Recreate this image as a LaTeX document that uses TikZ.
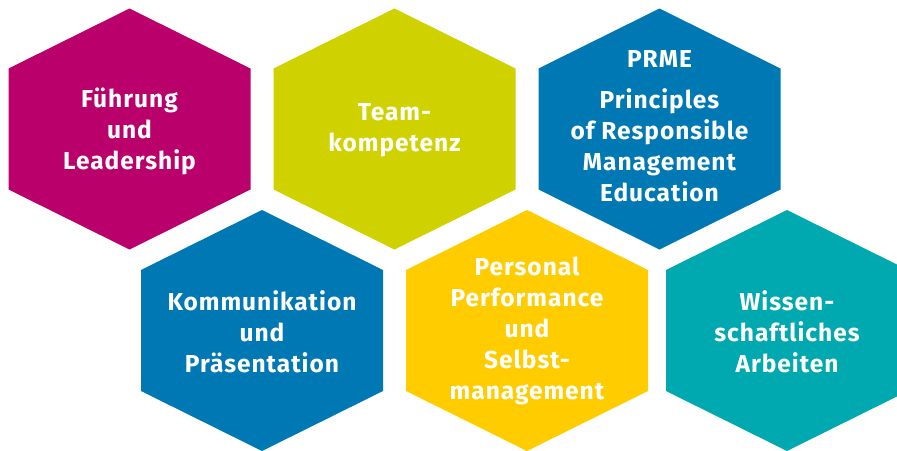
\documentclass[tikz,border=0pt]{standalone}
\usepackage{fontspec}
\setmainfont{Fira Sans}[LetterSpace=4]
\definecolor{hexmagenta}{RGB}{185,0,107}
\definecolor{hexlime}{RGB}{208,210,0}
\definecolor{hexblue}{RGB}{0,120,180}
\definecolor{hexyellow}{RGB}{255,204,0}
\definecolor{hexteal}{RGB}{0,168,176}
\tikzset{
  pics/hexa/.style={code={
    \fill (0,-120.5) -- (121,-60.5) -- (121,60.5) -- (0,120.5)
      -- (-121,60.5) -- (-121,-60.5) -- cycle;}},
  hexlabel/.style={text=white,align=center,
    font=\fontsize{24.5}{31}\selectfont\bfseries}
}
\begin{document}
\begin{tikzpicture}[x=1pt,y=-1pt]
  \useasboundingbox (0,0) rectangle (897,450);
  \clip (0,0) rectangle (897,450);
  % upper row
  \pic[fill=hexmagenta] at (129.5,129) {hexa};
  \pic[fill=hexlime] at (394.5,129) {hexa};
  \pic[fill=hexblue] at (659.5,129) {hexa};
  % lower row
  \pic[fill=hexblue] at (262,330.5) {hexa};
  \pic[fill=hexyellow] at (527,330.5) {hexa};
  \pic[fill=hexteal] at (787,330.5) {hexa};

  \node[hexlabel] (fuehrung) at (129.5,131) {Führung\\und\\Leadership};
  \node[hexlabel] (team) at (394.5,130) {Team-\\kompetenz};
  \node[hexlabel] (prme) at (659.5,126) {PRME\\[10pt]Principles\\of Responsible\\Management\\Education};
  \node[hexlabel] (kommunikation) at (262,332) {Kommunikation\\und\\Präsentation};
  \node[hexlabel] (personal) at (527,331) {Personal\\Performance\\und\\Selbst-\\management};
  \node[hexlabel] (wissen) at (787,332) {Wissen-\\schaftliches\\Arbeiten};
\end{tikzpicture}
\end{document}
